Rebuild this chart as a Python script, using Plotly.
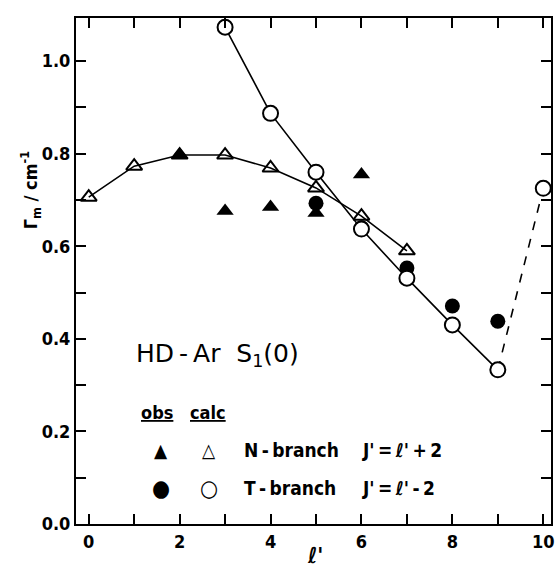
import plotly.graph_objects as go

# calc N-branch (open triangles)
calc_n_x = [0, 1, 2, 3, 4, 5, 6, 7]
calc_n_y = [0.706, 0.773, 0.797, 0.797, 0.769, 0.726, 0.665, 0.59]
# obs N-branch (filled triangles)
obs_n_x = [2, 3, 4, 5, 6]
obs_n_y = [0.797, 0.676, 0.685, 0.672, 0.755]
# calc T-branch (open circles)
calc_t_x = [3, 4, 5, 6, 7, 8, 9, 10]
calc_t_y = [1.073, 0.887, 0.760, 0.637, 0.531, 0.43, 0.333, 0.725]
# obs T-branch (filled circles)
obs_t_x = [5, 6, 7, 8, 9]
obs_t_y = [0.693, 0.64, 0.553, 0.471, 0.438]

x_ticks = [0, 2, 4, 6, 8, 10]
y_ticks = [0.0, 0.2, 0.4, 0.6, 0.8, 1.0]

FONT = "DejaVu Sans Condensed"
fig = go.Figure()

fig.add_trace(go.Scatter(x=calc_n_x, y=calc_n_y, mode="lines+markers",
                         line=dict(color="black", width=1.6),
                         marker=dict(symbol="triangle-up-open", size=14, color="black",
                                     line=dict(width=2, color="black")),
                         cliponaxis=False))
fig.add_trace(go.Scatter(x=calc_t_x[:-1], y=calc_t_y[:-1], mode="lines",
                         line=dict(color="black", width=1.6)))
fig.add_trace(go.Scatter(x=calc_t_x[-2:], y=calc_t_y[-2:], mode="lines",
                         line=dict(color="black", width=1.6, dash="dash")))
fig.add_trace(go.Scatter(x=obs_n_x, y=obs_n_y, mode="markers",
                         marker=dict(symbol="triangle-up", size=15, color="black")))
fig.add_trace(go.Scatter(x=obs_t_x, y=obs_t_y, mode="markers",
                         marker=dict(symbol="circle", size=15, color="black")))
fig.add_trace(go.Scatter(x=calc_t_x, y=calc_t_y, mode="markers",
                         marker=dict(symbol="circle", size=15, color="white",
                                     line=dict(width=2, color="black")),
                         cliponaxis=False))

axis_common = dict(showline=True, linecolor="black", linewidth=2, mirror="allticks",
                   ticks="inside", ticklen=10, tickwidth=1.5, tickcolor="black",
                   showgrid=False, zeroline=False, ticklabeloverflow="allow",
                   tickfont=dict(family=FONT, size=18, color="black"))

fig.update_xaxes(range=[-0.28, 10.17], tickvals=x_ticks,
                 ticktext=[f"<b>{v}</b>" for v in x_ticks],
                 minor=dict(dtick=1, ticks="inside", ticklen=10, tickwidth=1.5, tickcolor="black"),
                 **axis_common)
fig.update_yaxes(range=[0, 1.093], tickvals=y_ticks,
                 ticktext=[f"<b>{v:.1f}</b>" for v in y_ticks],
                 minor=dict(dtick=0.1, ticks="inside", ticklen=10, tickwidth=1.5, tickcolor="black"),
                 **axis_common)

ann = []
def txt(x, y, s, size=16, xanchor="left", family=FONT, **kw):
    ann.append(dict(x=x, y=y, xref="paper", yref="paper", text=s, showarrow=False,
                    xanchor=xanchor, yanchor="middle",
                    font=dict(family=family, size=size, color="black"), **kw))

W, H = 478, 506  # plot area size in px
def px(xp, yp):
    return ((xp - 76) / W, (524 - yp) / H)

x0, y0 = px(134, 355)
txt(x0, y0, "HD\u2009-\u2009Ar  S<sub>1</sub>(0)", size=25, family="DejaVu Sans")
x0, y0 = px(139, 413)
txt(x0, y0, "<b><u>obs</u></b>", size=18)
x0, y0 = px(189, 413)
txt(x0, y0, "<b><u>calc</u></b>", size=18)
for yy, f, o, fs, lab, rel in [(450, "\u25B2", "\u25B3", 19, "N\u2009-\u2009branch", "J'\u2009=\u2009\u2113'\u2009+\u20092"),
                               (488, "\u25CF", "\u25CB", 23, "T\u2009-\u2009branch", "J'\u2009=\u2009\u2113'\u2009-\u20092")]:
    x0, y0 = px(162, yy)
    txt(x0, y0, f, size=fs, xanchor="center")
    x0, y0 = px(210, yy)
    txt(x0, y0, o, size=fs, xanchor="center")
    x0, y0 = px(243, yy)
    txt(x0, y0, "<b>" + lab + "</b>", size=19)
    x0, y0 = px(362, yy)
    txt(x0, y0, "<b>" + rel + "</b>", size=19)

# axis titles
x0, y0 = px(317, 555)
txt(x0, y0, "<b><i>\u2113'</i></b>", size=22, xanchor="center")
x0, y0 = px(30, 190)
txt(x0, y0, "<b>\u0393<sub>m</sub> / cm<sup>-1</sup></b>", size=18, xanchor="center", textangle=-90)

fig.update_layout(width=555, height=567, margin=dict(l=76, r=1, t=18, b=43),
                  plot_bgcolor="white", paper_bgcolor="white", showlegend=False,
                  annotations=ann)

fig.write_html("out.html", config={"displayModeBar": False},
               post_script="document.body.style.margin='0';document.body.style.overflow='hidden';")
